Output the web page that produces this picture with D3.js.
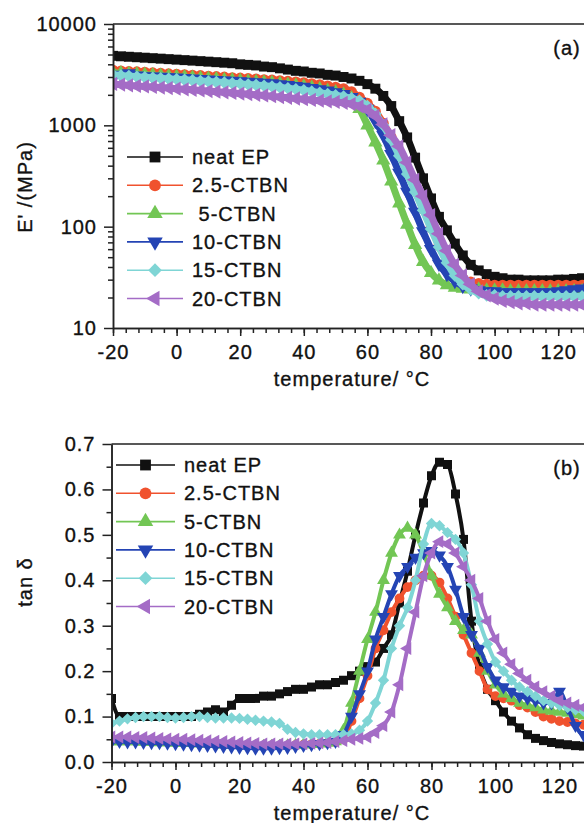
<!DOCTYPE html>
<html lang="en">
<head>
  <meta charset="UTF-8">
  <title>E' and tan delta vs temperature</title>
  <style>
    body { margin: 0; background: #fff; }
    svg { display: block; font-family: "Liberation Sans", Arial, sans-serif; }
    .axis text { font-size: 20px; fill: #111; stroke: #111; stroke-width: 0.35px; letter-spacing: 1px; }
    .axis path, .axis line { stroke: #222; stroke-width: 1.5; }
    .label { font-size: 20px; fill: #111; stroke: #111; stroke-width: 0.35px; letter-spacing: 1px; white-space: pre; }
  </style>
</head>
<body>
  <script src="https://d3js.org/d3.v7.min.js"></script>
  <script>
    // temperature grid shared by all series (deg C)
    const temps = [-20,-17.5,-15,-12.5,-10,-7.5,-5,-2.5,
      0,2.5,5,7.5,10,12.5,15,17.5,
      20,22.5,25,27.5,30,32.5,35,37.5,
      40,42.5,45,47.5,50,52.5,55,57.5,
      60,62.5,65,67.5,70,72.5,75,77.5,
      80,82.5,85,87.5,90,92.5,95,97.5,
      100,102.5,105,107.5,110,112.5,115,117.5,
      120,122.5,125,127.5,130];

    const seriesNames = ['neat EP','2.5-CTBN','5-CTBN','10-CTBN','15-CTBN','20-CTBN'];
    const legendNamesA = ['neat EP','2.5-CTBN',' 5-CTBN','10-CTBN','15-CTBN','20-CTBN'];
    const colors = ['#111111','#f0522e','#72c654','#2444b4','#7fd5d5','#a46cc6'];

    const xTicks = [-20,0,20,40,60,80,100,120];
    const modulusTicks = [10,100,1000,10000];
    const tanTicks = [0,0.1,0.2,0.3,0.4,0.5,0.6,0.7];

    // storage modulus E' (MPa)
    const modulusNeat = [4850,4800,4750,4700,4650,4600,4550,4500,
      4450,4400,4350,4300,4250,4200,4150,4100,
      4000,3950,3900,3800,3750,3650,3550,3450,
      3400,3300,3250,3150,3100,3000,2900,2750,
      2550,2300,1950,1550,1100,760,480,300,
      190,125,92,68,52,42,37,34,
      32,31,30,30,29.5,29.5,29.5,29.5,
      30,30,30.5,31,31];
    const modulusCtbn25 = [3500,3450,3400,3380,3350,3300,3270,3230,
      3200,3170,3130,3100,3060,3030,3000,2960,
      2930,2900,2870,2830,2800,2760,2720,2680,
      2640,2580,2520,2450,2380,2300,2150,1900,
      1650,1380,1050,760,520,340,230,150,
      98,65,46,36,31,28.5,27.5,27,
      26.5,26.5,26.5,26.5,26.5,26.5,26.5,26.5,
      26.5,26.5,26.5,26.5,26.5];
    const modulusCtbn5 = [3300,3260,3220,3190,3160,3120,3090,3050,
      3020,2990,2950,2920,2880,2850,2810,2780,
      2750,2710,2680,2650,2620,2570,2520,2470,
      2420,2350,2280,2200,2120,2020,1850,1450,
      1000,680,450,280,170,105,66,45,
      35,29.5,26.5,25,24.5,24,24,23.5,
      23.5,23.5,23,23,23,23,23,23,
      23,23,23,23,23];
    const modulusCtbn10 = [3000,3150,3250,3100,3050,3020,3000,2980,
      2950,2920,2890,2860,2830,2800,2770,2740,
      2710,2680,2650,2620,2590,2540,2490,2440,
      2390,2330,2270,2200,2120,2030,1900,1700,
      1450,1100,800,520,340,220,140,90,
      60,43,34,29,26,24.5,23.5,23,
      23,22.5,22.5,22.5,22.5,22.5,22.5,22.5,
      23,23.5,24,24.5,25];
    const modulusCtbn15 = [3150,3100,3060,3020,2980,2950,2910,2880,
      2850,2810,2780,2740,2710,2670,2640,2600,
      2570,2530,2500,2460,2420,2370,2320,2270,
      2220,2160,2100,2040,1980,1920,1850,1750,
      1550,1300,1000,720,500,330,220,145,
      95,63,44,33,27,24,22,21,
      21,20.5,20.5,20.5,20.5,20.5,20.5,20.5,
      20.5,20.5,20.5,20.5,20.5];
    const modulusCtbn20 = [2560,2520,2480,2450,2420,2390,2360,2330,
      2300,2270,2240,2210,2180,2150,2120,2090,
      2060,2030,2000,1970,1940,1900,1870,1840,
      1810,1780,1750,1720,1700,1670,1620,1540,
      1420,1240,1020,800,620,430,290,200,
      130,85,58,42,33,27,23,21,
      19.5,18.5,18,17.5,17.5,17,17,17,
      17,17,17,17,17];

    // loss factor tan delta
    const tanNeat = [0.14,0.10,0.10,0.10,0.10,0.10,0.10,0.10,
      0.10,0.10,0.10,0.105,0.11,0.115,0.11,0.125,
      0.14,0.14,0.14,0.145,0.145,0.15,0.155,0.16,
      0.16,0.165,0.17,0.17,0.175,0.18,0.19,0.20,
      0.21,0.22,0.25,0.28,0.35,0.42,0.50,0.57,
      0.63,0.66,0.655,0.59,0.49,0.31,0.21,0.16,
      0.135,0.11,0.09,0.075,0.06,0.052,0.047,0.043,
      0.04,0.038,0.036,0.035,0.034];
    const tanCtbn25 = [0.05,0.05,0.05,0.048,0.048,0.047,0.046,0.045,
      0.045,0.044,0.043,0.042,0.041,0.04,0.039,0.038,
      0.037,0.036,0.035,0.035,0.035,0.035,0.036,0.037,
      0.038,0.039,0.04,0.042,0.044,0.05,0.09,0.14,
      0.19,0.25,0.29,0.33,0.36,0.385,0.40,0.41,
      0.41,0.395,0.36,0.32,0.28,0.24,0.2,0.16,
      0.145,0.14,0.135,0.125,0.12,0.11,0.1,0.095,
      0.09,0.088,0.085,0.082,0.08];
    const tanCtbn5 = [0.045,0.045,0.045,0.045,0.044,0.044,0.043,0.043,
      0.042,0.042,0.041,0.04,0.04,0.039,0.038,0.038,
      0.037,0.036,0.035,0.035,0.035,0.035,0.036,0.037,
      0.038,0.039,0.04,0.042,0.045,0.07,0.13,0.2,
      0.27,0.33,0.4,0.46,0.5,0.515,0.5,0.46,
      0.41,0.37,0.34,0.31,0.29,0.28,0.24,0.2,
      0.17,0.15,0.14,0.13,0.125,0.12,0.115,0.112,
      0.11,0.108,0.105,0.102,0.1];
    const tanCtbn10 = [0.045,0.045,0.044,0.044,0.043,0.042,0.042,0.041,
      0.04,0.039,0.038,0.037,0.036,0.035,0.034,0.033,
      0.032,0.031,0.03,0.03,0.03,0.031,0.032,0.034,
      0.036,0.038,0.04,0.042,0.045,0.06,0.1,0.15,
      0.2,0.27,0.32,0.37,0.41,0.43,0.45,0.46,
      0.465,0.455,0.43,0.38,0.32,0.28,0.25,0.21,
      0.18,0.165,0.155,0.145,0.14,0.135,0.13,0.13,
      0.155,0.12,0.08,0.06,0.07];
    const tanCtbn15 = [0.085,0.09,0.095,0.098,0.1,0.1,0.1,0.098,
      0.097,0.098,0.1,0.1,0.098,0.097,0.097,0.097,
      0.096,0.094,0.092,0.09,0.088,0.085,0.072,0.065,
      0.062,0.06,0.06,0.06,0.06,0.06,0.062,0.07,
      0.09,0.13,0.18,0.25,0.3,0.34,0.40,0.48,
      0.525,0.52,0.505,0.49,0.46,0.39,0.31,0.26,
      0.22,0.2,0.18,0.165,0.155,0.145,0.135,0.13,
      0.125,0.12,0.115,0.112,0.11];
    const tanCtbn20 = [0.055,0.055,0.055,0.054,0.054,0.053,0.052,0.051,
      0.05,0.05,0.049,0.048,0.047,0.046,0.045,0.044,
      0.043,0.042,0.041,0.04,0.04,0.04,0.04,0.04,
      0.04,0.041,0.042,0.043,0.045,0.047,0.05,0.052,
      0.055,0.065,0.08,0.11,0.17,0.25,0.33,0.41,
      0.46,0.485,0.48,0.46,0.43,0.4,0.36,0.31,
      0.27,0.24,0.215,0.195,0.18,0.165,0.155,0.145,
      0.135,0.13,0.125,0.12,0.115];

    // marker shape per series: square, circle, up, down, diamond, left
    const shapes = [
      {type: d3.symbolSquare, rot: 0, size: 90},
      {type: d3.symbolCircle, rot: 0, size: 84},
      {type: d3.symbolTriangle, rot: 0, size: 80},
      {type: d3.symbolTriangle, rot: 180, size: 80},
      {type: d3.symbolSquare, rot: 45, size: 72},
      {type: d3.symbolTriangle, rot: -90, size: 80}
    ];

    const SVGWIDTH = 584;
    const SVGHEIGHT = 823;
    const svg = d3.select('body').append('svg')
      .attr('width', SVGWIDTH)
      .attr('height', SVGHEIGHT)
      .attr('viewBox', `0 0 ${SVGWIDTH} ${SVGHEIGHT}`);

    function drawPanel (p) {
      const x = d3.scaleLinear().domain([-20, 130]).range([p.left, p.right]);
      const y = p.y;
      const top = y.range()[1], bottom = y.range()[0];

      svg.append('clipPath').attr('id', 'clip-' + p.name)
        .append('rect')
          .attr('x', p.left).attr('y', top)
          .attr('width', p.right - p.left).attr('height', bottom - top);

      const plot = svg.append('g').attr('clip-path', `url(#clip-${p.name})`);
      const line = d3.line().x(d => x(d[0])).y(d => y(d[1])).curve(d3.curveMonotoneX);

      p.series.forEach((vals, i) => {
        const pts = temps.map((t, j) => [t, vals[j]]);
        plot.append('path').datum(pts)
          .attr('fill', 'none')
          .attr('stroke', colors[i])
          .attr('stroke-width', p.bandWidth)
          .attr('stroke-linejoin', 'round')
          .attr('d', line);
        plot.append('g').selectAll('path')
          .data(pts)
          .join('path')
            .attr('transform', d => `translate(${x(d[0])},${y(d[1])}) rotate(${shapes[i].rot})`)
            .attr('d', d3.symbol(shapes[i].type, shapes[i].size * p.markScale))
            .attr('fill', colors[i]);
      });

      // frame (top + right)
      svg.append('path')
        .attr('d', `M${p.left},${top}H${p.right}V${bottom}`)
        .attr('fill', 'none').attr('stroke', '#222').attr('stroke-width', 1.5);

      // x axis, major + minor
      svg.append('g').attr('class', 'axis')
        .attr('transform', `translate(0,${bottom})`)
        .call(d3.axisBottom(x).tickValues(d3.range(-20, 131, 4)).tickSize(5).tickSizeOuter(0).tickFormat(''));
      svg.append('g').attr('class', 'axis')
        .attr('transform', `translate(0,${bottom})`)
        .call(d3.axisBottom(x).tickValues(xTicks).tickSize(8).tickSizeOuter(0).tickPadding(9).tickFormat(d => String(d)));

      // y axis, major + minor
      svg.append('g').attr('class', 'axis')
        .attr('transform', `translate(${p.left},0)`)
        .call(d3.axisLeft(y).tickValues(p.minorTicks).tickSize(5).tickSizeOuter(0).tickFormat(''));
      svg.append('g').attr('class', 'axis')
        .attr('transform', `translate(${p.left},0)`)
        .call(d3.axisLeft(y).tickValues(p.yTicks).tickSize(9).tickSizeOuter(0).tickPadding(7).tickFormat(p.format));

      // axis titles
      svg.append('text').attr('class', 'label')
        .attr('x', 352).attr('y', bottom + 58)
        .attr('text-anchor', 'middle')
        .text('temperature/ °C');
      svg.append('text').attr('class', 'label')
        .attr('transform', `translate(32,${p.yTitleY}) rotate(-90)`)
        .attr('text-anchor', 'middle')
        .text(p.yTitle);

      // panel tag
      svg.append('text').attr('class', 'label')
        .attr('x', 567).attr('y', top + 31)
        .attr('text-anchor', 'middle')
        .text(p.tag);

      // legend
      const leg = svg.append('g');
      p.legendNames.forEach((name, i) => {
        const ly = p.legend.y + i * 28.3;
        leg.append('line')
          .attr('x1', p.legend.x1).attr('x2', p.legend.x2)
          .attr('y1', ly).attr('y2', ly)
          .attr('stroke', colors[i]).attr('stroke-width', 1.6);
        leg.append('path')
          .attr('transform', `translate(${(p.legend.x1 + p.legend.x2) / 2},${ly}) rotate(${shapes[i].rot})`)
          .attr('d', d3.symbol(shapes[i].type, shapes[i].size * 1.3))
          .attr('fill', colors[i]);
        leg.append('text').attr('class', 'label')
          .attr('x', p.legend.x2 + 9).attr('y', ly + 7)
          .text(name);
      });
    }

    // top panel: storage modulus, log scale
    const yModulus = d3.scaleLog().domain([10, 10000]).range([328, 24]);
    drawPanel({
      name: 'a',
      left: 113, right: 590,
      y: yModulus,
      series: [modulusNeat, modulusCtbn25, modulusCtbn5, modulusCtbn10, modulusCtbn15, modulusCtbn20],
      bandWidth: 7, markScale: 1.1,
      yTicks: modulusTicks,
      minorTicks: yModulus.ticks().filter(v => !modulusTicks.includes(v)),
      format: d3.format('d'),
      yTitle: "E' /(MPa)",
      yTitleY: 187,
      tag: '(a)',
      legendNames: legendNamesA,
      legend: {x1: 127, x2: 183, y: 157}
    });

    // bottom panel: tan delta
    const yTan = d3.scaleLinear().domain([0, 0.7]).range([762, 444]);
    drawPanel({
      name: 'b',
      left: 111.5, right: 591.5,
      y: yTan,
      series: [tanNeat, tanCtbn25, tanCtbn5, tanCtbn10, tanCtbn15, tanCtbn20],
      bandWidth: 4, markScale: 0.9,
      yTicks: tanTicks,
      minorTicks: d3.range(0.05, 0.7, 0.1),
      format: d3.format('.1f'),
      yTitle: 'tan δ',
      yTitleY: 582,
      tag: '(b)',
      legendNames: seriesNames,
      legend: {x1: 116, x2: 175, y: 465}
    });
  </script>
</body>
</html>
